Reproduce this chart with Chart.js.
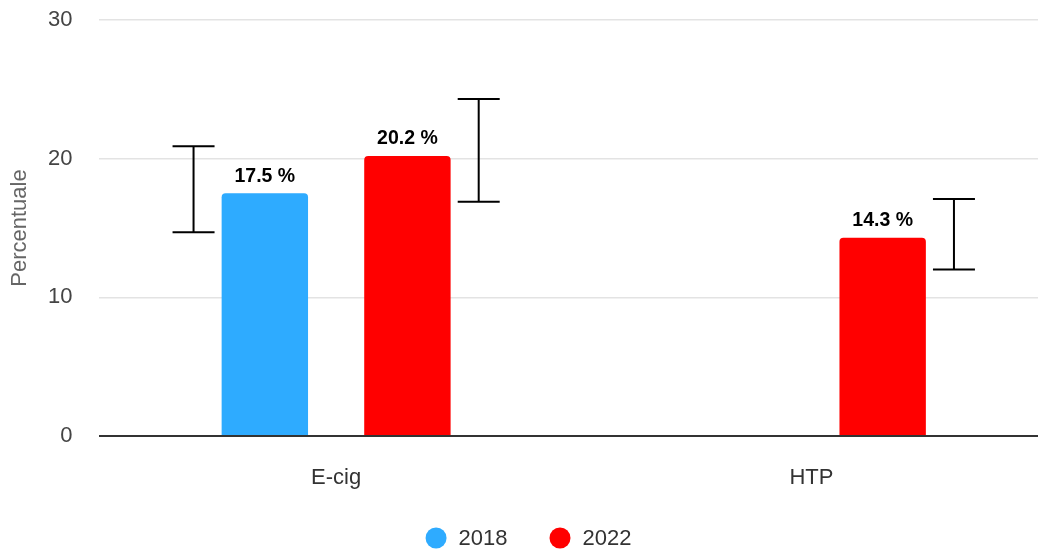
<!DOCTYPE html>
<html>
<head>
<meta charset="utf-8">
<script src="https://cdn.jsdelivr.net/npm/chart.js@4.4.1/dist/chart.umd.min.js"></script>
<style>
  html, body { margin: 0; padding: 0; background: #fff; overflow: hidden; }
  #wrap { width: 1050px; height: 549px; }
</style>
</head>
<body>
<div id="wrap"><canvas id="chart"></canvas></div>
<script>
// Dati del grafico
const categories = ['E-cig', 'HTP'];
const seriesNames = ['2018', '2022'];
const values2018 = [17.5, null];
const values2022 = [20.2, 14.3];
// intervalli di confidenza (min / max)
const low2018 = [14.7, null];
const high2018 = [20.9, null];
const low2022 = [16.9, 12.0];
const high2022 = [24.3, 17.1];
const yTicks = [0, 10, 20, 30];

const font = "'Liberation Sans', Arial, sans-serif";
const catPct = 0.6;
const barPct = 0.606;

// Barre di errore (disegnate di lato alla barra, come nell'originale)
const errorBars = {
    id: 'errorBars',
    afterDatasetsDraw(chart) {
        const c = chart.ctx;
        const y = chart.scales.y;
        chart.data.datasets.forEach((ds, i) => {
            const meta = chart.getDatasetMeta(i);
            meta.data.forEach((bar, j) => {
                if (ds.data[j] == null || ds.low[j] == null) return;
                const slot = bar.width / barPct;
                const x = bar.x + ds.errSide * slot / 2;
                const yLo = y.getPixelForValue(ds.low[j]);
                const yHi = y.getPixelForValue(ds.high[j]);
                c.save();
                c.strokeStyle = '#000';
                c.lineWidth = 2;
                c.beginPath();
                c.moveTo(x, yLo); c.lineTo(x, yHi);
                c.moveTo(x - 21, yLo); c.lineTo(x + 21, yLo);
                c.moveTo(x - 21, yHi); c.lineTo(x + 21, yHi);
                c.stroke();
                c.restore();
            });
        });
    }
};

// Etichette sopra le barre
const barLabels = {
    id: 'barLabels',
    afterDatasetsDraw(chart) {
        const c = chart.ctx;
        chart.data.datasets.forEach((ds, i) => {
            chart.getDatasetMeta(i).data.forEach((bar, j) => {
                const v = ds.data[j];
                if (v == null) return;
                c.save();
                c.font = 'bold 19.5px ' + font;
                c.fillStyle = '#000';
                c.textAlign = 'center';
                c.textBaseline = 'middle';
                c.fillText(v.toFixed(1) + ' %', bar.x, bar.y - 17);
                c.restore();
            });
        });
    }
};

// Legenda in basso (cerchi + testo)
const bottomLegend = {
    id: 'bottomLegend',
    afterDraw(chart) {
        const c = chart.ctx;
        const r = 10.5, gap = 12, between = 42;
        c.save();
        c.font = '22px ' + font;
        const items = chart.data.datasets.map(ds => ({
            text: ds.label, color: ds.backgroundColor, w: c.measureText(ds.label).width
        }));
        const total = items.reduce((s, it) => s + 2 * r + gap + it.w, 0) + between * (items.length - 1);
        let x = chart.width / 2 + 3.5 - total / 2;
        const y = 538;
        items.forEach(it => {
            c.fillStyle = it.color;
            c.beginPath();
            c.arc(x + r, y, r, 0, Math.PI * 2);
            c.fill();
            c.fillStyle = '#333';
            c.textAlign = 'left';
            c.textBaseline = 'middle';
            c.fillText(it.text, x + 2 * r + gap, y + 1);
            x += 2 * r + gap + it.w + between;
        });
        c.restore();
    }
};

const ctx = document.getElementById('chart').getContext('2d');
new Chart(ctx, {
    type: 'bar',
    data: {
        labels: categories,
        datasets: [{
            label: seriesNames[0],
            data: values2018,
            low: low2018,
            high: high2018,
            errSide: -1,
            backgroundColor: '#2eabff',
            borderRadius: { topLeft: 4, topRight: 4 },
            borderSkipped: 'bottom'
        }, {
            label: seriesNames[1],
            data: values2022,
            low: low2022,
            high: high2022,
            errSide: 1,
            backgroundColor: '#ff0000',
            borderRadius: { topLeft: 4, topRight: 4 },
            borderSkipped: 'bottom'
        }]
    },
    options: {
        responsive: true,
        maintainAspectRatio: false,
        animation: false,
        datasets: {
            bar: { categoryPercentage: catPct, barPercentage: barPct }
        },
        layout: { padding: { top: 20, right: 1, bottom: 32, left: 0 } },
        scales: {
            x: {
                grid: { display: false },
                border: { display: false },
                ticks: { color: '#333', font: { family: font, size: 22 }, padding: 21 },
                afterFit(s) { s.height = 81; }
            },
            y: {
                min: 0,
                max: 30,
                afterBuildTicks(s) { s.ticks = yTicks.map(v => ({ value: v })); },
                afterFit(s) {
                    s.width = 98.5;
                    s.paddingTop = 0;
                    s.paddingBottom = 0;
                },
                border: { display: false },
                grid: {
                    drawTicks: false,
                    color: c => c.tick.value === 0 ? '#333' : '#e3e3e3',
                    lineWidth: c => c.tick.value === 0 ? 2 : 1.5
                },
                ticks: { color: '#444', font: { family: font, size: 22 }, padding: 26 },
                title: {
                    display: true,
                    text: 'Percentuale',
                    color: '#666',
                    font: { family: font, size: 22 },
                    padding: { top: 7, bottom: 0 }
                }
            }
        },
        plugins: {
            legend: { display: false },
            tooltip: { enabled: false }
        }
    },
    plugins: [errorBars, barLabels, bottomLegend]
});
</script>
</body>
</html>
